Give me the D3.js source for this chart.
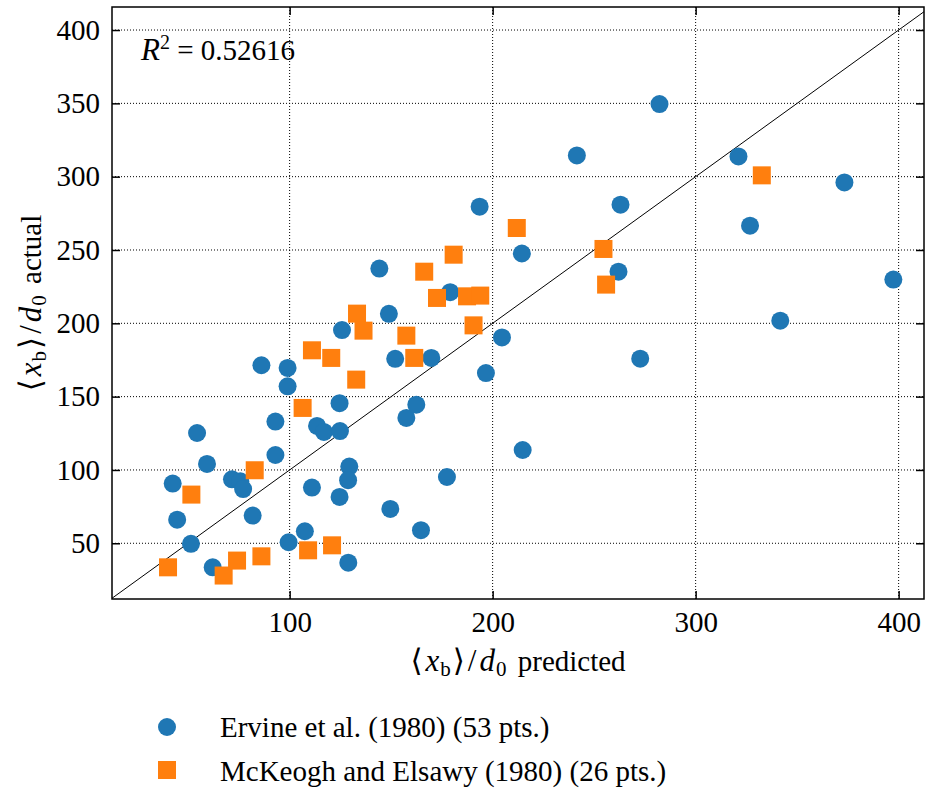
<!DOCTYPE html>
<html>
<head>
<meta charset="utf-8">
<script src="https://cdn.jsdelivr.net/npm/d3@7"></script>
<style>
  body { margin: 0; background: #fff; }
  text { font-family: "Liberation Serif", "Times New Roman", serif; fill: #000; }
</style>
</head>
<body>
<div id="chart"></div>
<script>
const width = 925;
const height = 791;

// data
const ervineX = [42.4, 44.6, 51.4, 54.4, 59.3, 62.1, 71.6, 75.7, 77.1, 81.8, 86.1, 93.0, 93.0, 99.0, 99.0, 99.5, 107.5, 111.0, 113.5, 116.9, 124.8, 124.6, 125.8, 148.9, 129.4, 128.8, 124.6, 128.9, 149.6, 164.7, 177.5, 157.5, 162.4, 152.0, 169.8, 196.7, 204.6, 214.8, 144.2, 179.1, 193.6, 241.5, 214.4, 263.0, 262.0, 282.2, 321.1, 326.8, 373.3, 397.4, 341.7, 272.7];
const ervineY = [90.7, 66.1, 49.6, 125.2, 104.1, 33.6, 93.6, 92.3, 87.0, 68.9, 171.4, 133.0, 110.2, 169.6, 157.0, 50.7, 58.2, 88.0, 130.0, 125.9, 126.5, 145.5, 195.4, 206.5, 102.3, 93.0, 81.6, 36.8, 73.4, 58.9, 95.2, 135.5, 144.5, 175.8, 176.4, 166.1, 190.4, 113.6, 237.3, 221.2, 279.5, 314.5, 247.6, 280.9, 235.2, 349.5, 313.8, 266.6, 296.1, 229.8, 201.8, 175.9];

const mckeoghX = [40.1, 51.6, 67.5, 74.1, 82.8, 86.1, 106.4, 109.1, 111.0, 120.5, 133.2, 136.4, 132.8, 157.5, 161.4, 190.6, 120.9, 172.6, 180.8, 166.3, 187.4, 193.9, 211.9, 254.6, 255.9, 332.6];
const mckeoghY = [33.6, 83.2, 28.0, 38.2, 99.8, 41.1, 142.3, 45.2, 181.6, 176.4, 206.6, 195.0, 161.6, 191.6, 176.4, 198.6, 48.6, 217.3, 246.8, 235.2, 218.4, 218.9, 265.0, 250.7, 226.4, 300.9];

const xTicks = [100, 200, 300, 400];
const yTicks = [50, 100, 150, 200, 250, 300, 350, 400];
const seriesNames = ["Ervine et al. (1980) (53 pts.)", "McKeogh and Elsawy (1980) (26 pts.)"];
const rSquared = "0.52616";

const blue = "#1f77b4";
const orange = "#ff7f0e";

// plot box
const pLeft = 112, pRight = 924, pTop = 7, pBottom = 599;

const x = d3.scaleLinear().domain([12.5, 412.5]).range([pLeft, pRight]);
const y = d3.scaleLinear().domain([12, 415.7]).range([pBottom, pTop]);

const svg = d3.select("#chart")
    .append("svg")
    .attr("width", width)
    .attr("height", height);

svg.append("rect").attr("width", width).attr("height", height).attr("fill", "#fff");

svg.append("clipPath").attr("id", "plotclip")
    .append("rect")
    .attr("x", pLeft).attr("y", pTop)
    .attr("width", pRight - pLeft).attr("height", pBottom - pTop);

// grid (dotted)
const grid = svg.append("g");
grid.selectAll(".gx").data(xTicks).enter().append("line")
    .attr("x1", d => x(d)).attr("x2", d => x(d))
    .attr("y1", pTop).attr("y2", pBottom)
    .attr("stroke", "#000").attr("stroke-width", 1)
    .attr("stroke-dasharray", "1,2");
grid.selectAll(".gy").data(yTicks).enter().append("line")
    .attr("x1", pLeft).attr("x2", pRight)
    .attr("y1", d => y(d)).attr("y2", d => y(d))
    .attr("stroke", "#000").attr("stroke-width", 1)
    .attr("stroke-dasharray", "1,2");

// 1:1 line
svg.append("line")
    .attr("clip-path", "url(#plotclip)")
    .attr("x1", x(0)).attr("y1", y(0))
    .attr("x2", x(450)).attr("y2", y(450))
    .attr("stroke", "#000").attr("stroke-width", 1);

// points
const pts = svg.append("g").attr("clip-path", "url(#plotclip)");
pts.selectAll("circle")
    .data(d3.zip(ervineX, ervineY))
    .enter().append("circle")
    .attr("cx", d => x(d[0]))
    .attr("cy", d => y(d[1]))
    .attr("r", 9)
    .attr("fill", blue);

const side = 18;
pts.selectAll("rect")
    .data(d3.zip(mckeoghX, mckeoghY))
    .enter().append("rect")
    .attr("x", d => x(d[0]) - side / 2)
    .attr("y", d => y(d[1]) - side / 2)
    .attr("width", side)
    .attr("height", side)
    .attr("fill", orange);

// axes, ticks pointing inward
function styleAxis(g) {
    g.select(".domain").remove();
    g.selectAll(".tick line").attr("stroke", "#000").attr("stroke-width", 1.5);
    g.selectAll(".tick text")
        .style("font-family", "'Liberation Serif', serif")
        .style("font-size", "29px")
        .attr("fill", "#000");
}

svg.append("g")
    .attr("transform", `translate(0,${pBottom})`)
    .call(d3.axisBottom(x).tickValues(xTicks).tickSize(-8).tickPadding(12).tickFormat(d3.format("d")))
    .call(styleAxis);

svg.append("g")
    .attr("transform", `translate(${pLeft},0)`)
    .call(d3.axisLeft(y).tickValues(yTicks).tickSize(-8).tickPadding(12).tickFormat(d3.format("d")))
    .call(styleAxis);

svg.append("g")
    .attr("transform", `translate(0,${pTop})`)
    .call(d3.axisTop(x).tickValues(xTicks).tickSize(-8).tickFormat(""))
    .call(styleAxis);

svg.append("g")
    .attr("transform", `translate(${pRight},0)`)
    .call(d3.axisRight(y).tickValues(yTicks).tickSize(-8).tickFormat(""))
    .call(styleAxis);

// frame
svg.append("rect")
    .attr("x", pLeft).attr("y", pTop)
    .attr("width", pRight - pLeft).attr("height", pBottom - pTop)
    .attr("fill", "none")
    .attr("stroke", "#000")
    .attr("stroke-width", 1.5);

// <x_b>/d_0 label builder
function mathLabel(t, suffix) {
    t.style("font-size", "29px");
    t.append("tspan").text("\u27E8").style("font-family", "'DejaVu Serif', serif").style("font-size", "31px");
    t.append("tspan").text("x").style("font-style", "italic").style("font-size", "31px").attr("dx", 3);
    t.append("tspan").text("b").style("font-size", "21px").attr("dy", 5).attr("dx", 1);
    t.append("tspan").text("\u27E9").style("font-family", "'DejaVu Serif', serif").style("font-size", "31px").attr("dy", -5).attr("dx", 2);
    t.append("tspan").text("/").style("font-size", "31px").attr("dx", 3);
    t.append("tspan").text("d").style("font-style", "italic").style("font-size", "31px").attr("dx", 3);
    t.append("tspan").text("0").style("font-size", "21px").attr("dy", 5).attr("dx", 1);
    t.append("tspan").text(" " + suffix).attr("dy", -5).attr("dx", 4);
}

svg.append("text")
    .attr("x", (pLeft + pRight) / 2)
    .attr("y", 671)
    .attr("text-anchor", "middle")
    .call(mathLabel, "predicted");

svg.append("text")
    .attr("transform", `translate(41,${(pTop + pBottom) / 2}) rotate(-90)`)
    .attr("text-anchor", "middle")
    .call(mathLabel, "actual");

// R^2 annotation
const r2 = svg.append("text")
    .attr("x", 141)
    .attr("y", 60)
    .style("font-size", "29px");
r2.append("tspan").text("R").style("font-style", "italic").style("font-size", "31px");
r2.append("tspan").text("2").style("font-size", "20px").attr("dy", -11);
r2.append("tspan").text(" = " + rSquared).attr("dy", 11);

// legend
const legend = svg.append("g");
legend.append("circle").attr("cx", 167).attr("cy", 727).attr("r", 9).attr("fill", blue);
legend.append("text").attr("x", 220).attr("y", 737).style("font-size", "29px").text(seriesNames[0]);
legend.append("rect").attr("x", 167 - side / 2).attr("y", 770 - side / 2)
    .attr("width", side).attr("height", side).attr("fill", orange);
legend.append("text").attr("x", 220).attr("y", 781).style("font-size", "29px").text(seriesNames[1]);
</script>
</body>
</html>
